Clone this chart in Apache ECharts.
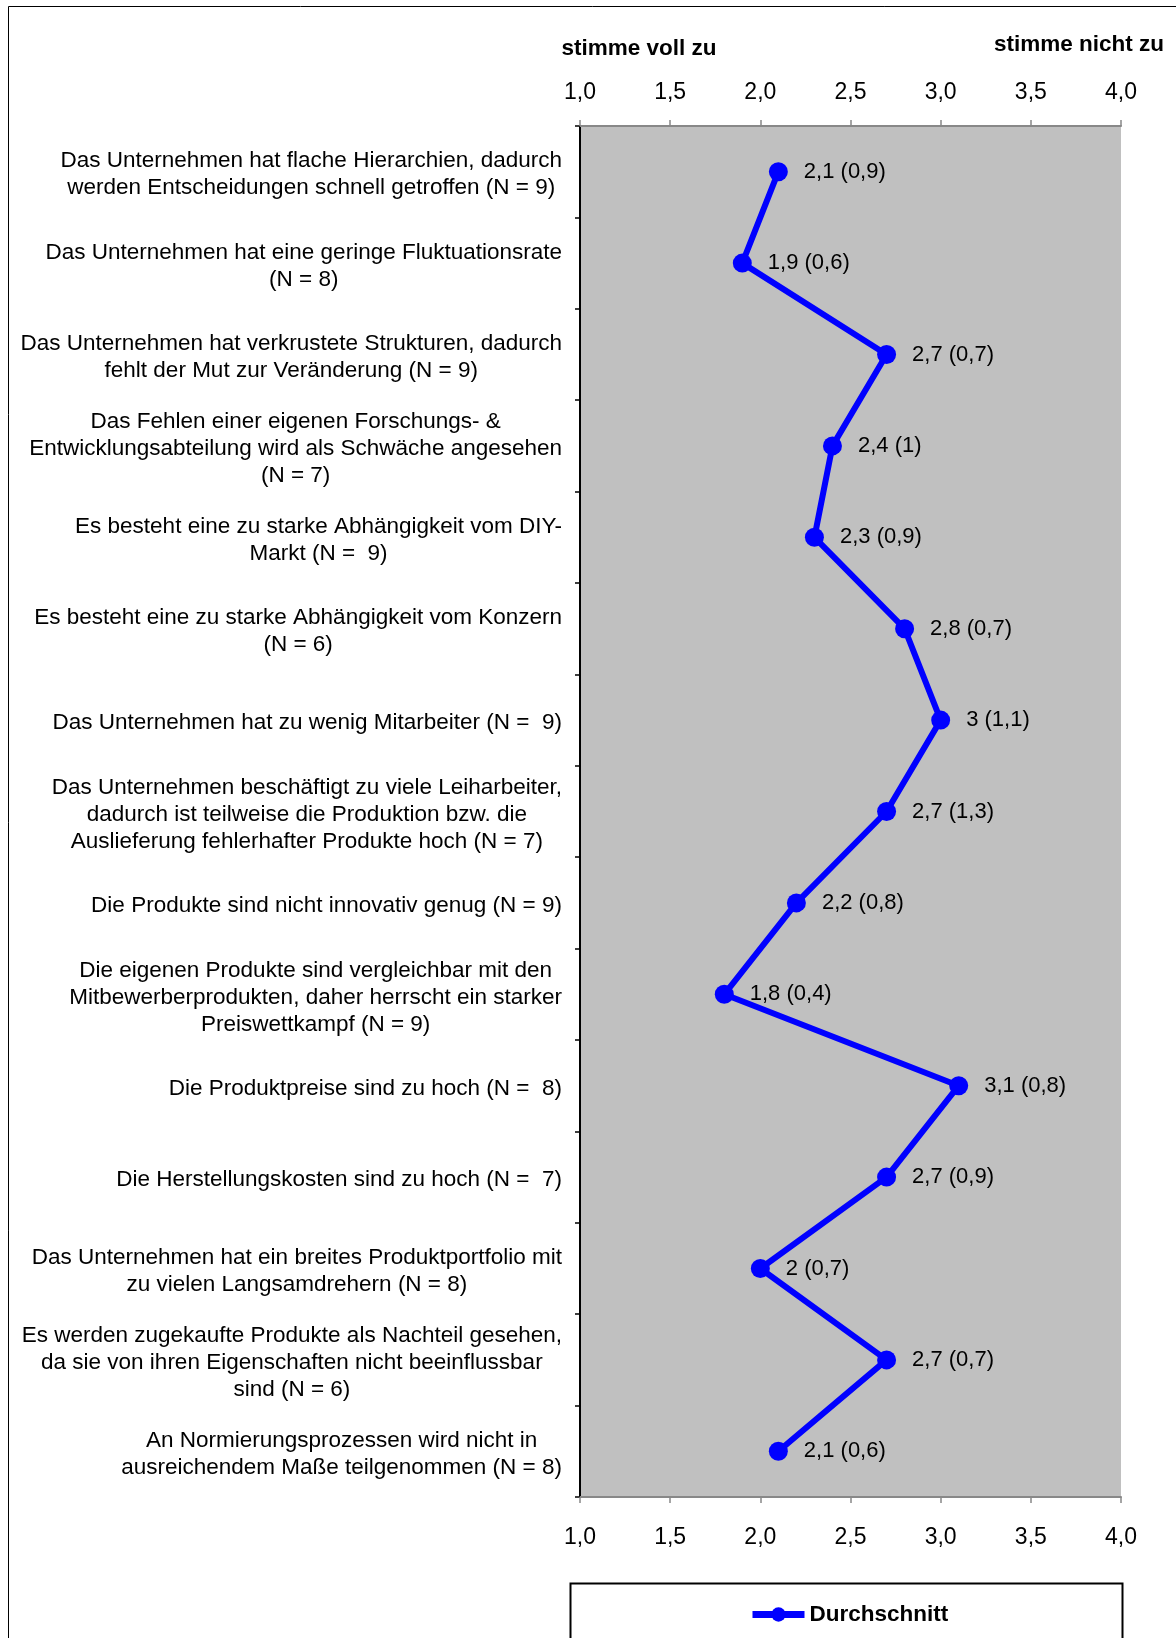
<!DOCTYPE html>
<html><head><meta charset="utf-8">
<script src="https://cdn.jsdelivr.net/npm/echarts@6/dist/echarts.min.js"></script>
<style>html,body{margin:0;padding:0;background:#fff}#c{width:1176px;height:1638px}</style>
</head><body><div id="c"></div>
<script>
const categories = [
  "Das Unternehmen hat flache Hierarchien, dadurch\nwerden Entscheidungen schnell getroffen (N = 9)",
  "Das Unternehmen hat eine geringe Fluktuationsrate\n(N = 8)",
  "Das Unternehmen hat verkrustete Strukturen, dadurch\nfehlt der Mut zur Veränderung (N = 9)",
  "Das Fehlen einer eigenen Forschungs- &\nEntwicklungsabteilung wird als Schwäche angesehen\n(N = 7)",
  "Es besteht eine zu starke Abhängigkeit vom DIY-\nMarkt (N =  9)",
  "Es besteht eine zu starke Abhängigkeit vom Konzern\n(N = 6)",
  "Das Unternehmen hat zu wenig Mitarbeiter (N =  9)",
  "Das Unternehmen beschäftigt zu viele Leiharbeiter,\ndadurch ist teilweise die Produktion bzw. die\nAuslieferung fehlerhafter Produkte hoch (N = 7)",
  "Die Produkte sind nicht innovativ genug (N = 9)",
  "Die eigenen Produkte sind vergleichbar mit den\nMitbewerberprodukten, daher herrscht ein starker\nPreiswettkampf (N = 9)",
  "Die Produktpreise sind zu hoch (N =  8)",
  "Die Herstellungskosten sind zu hoch (N =  7)",
  "Das Unternehmen hat ein breites Produktportfolio mit\nzu vielen Langsamdrehern (N = 8)",
  "Es werden zugekaufte Produkte als Nachteil gesehen,\nda sie von ihren Eigenschaften nicht beeinflussbar\nsind (N = 6)",
  "An Normierungsprozessen wird nicht in\nausreichendem Maße teilgenommen (N = 8)"
];
const means = [2.1, 1.9, 2.7, 2.4, 2.3, 2.8, 3, 2.7, 2.2, 1.8, 3.1, 2.7, 2, 2.7, 2.1];
const sds = [0.9, 0.6, 0.7, 1, 0.9, 0.7, 1.1, 1.3, 0.8, 0.4, 0.8, 0.9, 0.7, 0.7, 0.6];
const seriesName = "Durchschnitt";
const leftHeading = "stimme voll zu";
const rightHeading = "stimme nicht zu";

const FONT = "'Liberation Sans', Arial, sans-serif";
const de = v => String(v).replace('.', ',');
const chart = echarts.init(document.getElementById('c'));
const xAxisBase = {
  type: 'value', min: 1, max: 4, interval: 0.5,
  axisLine: {show: true, lineStyle: {color: '#888888', width: 2}},
  axisTick: {show: true, inside: false, length: 6, lineStyle: {color: '#888888', width: 1.5}},
  splitLine: {show: false},
  axisLabel: {fontFamily: FONT, fontSize: 23, color: '#000', formatter: v => v.toFixed(1).replace('.', ',')}
};
chart.setOption({
  animation: false,
  backgroundColor: '#fff',
  grid: {left: 580, right: 55, top: 126, bottom: 141, show: true, backgroundColor: '#C0C0C0', borderWidth: 0},
  xAxis: [
    Object.assign({}, xAxisBase, {position: 'top', axisLabel: Object.assign({}, xAxisBase.axisLabel, {margin: 22})}),
    Object.assign({}, xAxisBase, {position: 'bottom', axisLabel: Object.assign({}, xAxisBase.axisLabel, {margin: 29})})
  ],
  yAxis: {
    type: 'category', data: categories, inverse: true, boundaryGap: true,
    axisLine: {show: true, lineStyle: {color: '#000', width: 2}},
    axisTick: {show: true, inside: false, length: 5, alignWithLabel: false, lineStyle: {color: '#000', width: 1.5}},
    axisLabel: {
      interval: 0, margin: 18, align: 'right', fontFamily: FONT, fontSize: 22.5, color: '#000', lineHeight: 27,
      formatter: v => v.split('\n').map(l => '{c|' + l + '}').join('\n'),
      rich: {c: {align: 'center', fontFamily: FONT, fontSize: 22.5, lineHeight: 27, color: '#000', padding: [6, 0, 0, 0]}}
    }
  },
  legend: {
    data: [seriesName], left: 744, top: 1598, itemWidth: 52, itemHeight: 18, itemGap: 6,
    lineStyle: {width: 7},
    textStyle: {fontFamily: FONT, fontSize: 22.5, fontWeight: 'bold', color: '#000'}
  },
  series: [{
    name: seriesName, type: 'line', xAxisIndex: 0, data: means,
    symbol: 'circle', symbolSize: 19,
    lineStyle: {color: '#0000FF', width: 6},
    itemStyle: {color: '#0000FF'},
    label: {
      show: true, position: 'right', distance: 16, fontFamily: FONT, fontSize: 22, color: '#000',
      formatter: p => de(means[p.dataIndex]) + ' (' + de(sds[p.dataIndex]) + ')'
    }
  }],
  graphic: [
    {type: 'rect', shape: {x: 8.5, y: 6.5, width: 1200, height: 1700}, style: {fill: 'none', stroke: '#000', lineWidth: 1}, silent: true},
    {type: 'rect', shape: {x: 570.5, y: 1583.5, width: 552, height: 80}, style: {fill: '#fff', stroke: '#000', lineWidth: 2}, silent: true, z: -1},
    {type: 'text', x: 639, y: 49, style: {text: leftHeading, fontFamily: FONT, fontSize: 22.5, fontWeight: 'bold', fill: '#000', align: 'center', verticalAlign: 'middle'}},
    {type: 'text', x: 1079, y: 45, style: {text: rightHeading, fontFamily: FONT, fontSize: 22.5, fontWeight: 'bold', fill: '#000', align: 'center', verticalAlign: 'middle'}}
  ]
});
</script></body></html>
